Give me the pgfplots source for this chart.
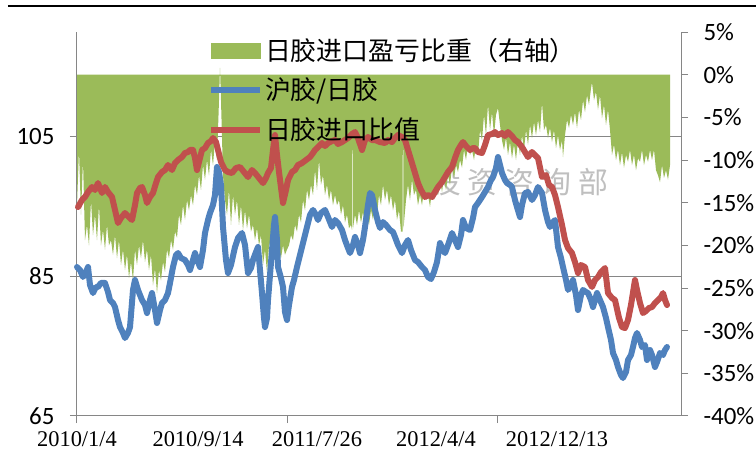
\documentclass[border=0pt]{standalone}
\usepackage{pgfplots}
\pgfplotsset{compat=1.18}
\usepackage{fontspec}
\setmainfont{Liberation Serif}
\newfontfamily\cjk{Noto Sans CJK SC}
\newfontfamily\carlito{Carlito}
\newfontfamily\lserif{Liberation Serif}
\definecolor{agreen}{HTML}{9BBB59}
\definecolor{ablue}{HTML}{4F81BD}
\definecolor{ared}{HTML}{C0504D}
\definecolor{axgray}{HTML}{868686}
\pgfplotsset{
  base/.style={width=604bp, height=384bp, scale only axis, xmin=0, xmax=604,
    /pgf/number format/assume math mode=true, clip=false},
}
\newcommand{\legtxt}[1]{\rule[-5bp]{0pt}{25bp}\smash{#1}}
\begin{document}
\begin{tikzpicture}
% ---------- Axis A: left scale, grid, x axis ----------
\begin{axis}[base, name=A,
  ymin=65, ymax=120,
  axis x line*=bottom, axis y line*=left,
  axis line style={draw=axgray, line width=1bp, -},
  ytick={65,85,105}, yticklabels={65,85,105},
  ymajorgrids, grid style={draw=axgray, line width=1bp},
  tick align=outside, major tick length=7bp,
  tick style={draw=axgray, line width=1bp},
  yticklabel style={font=\carlito\fontsize{25}{25}\selectfont, xshift=-12bp},
  xtick={0,210,420}, xticklabels={,,},
  extra x ticks={0,121,240,359,480},
  extra x tick labels={2010/1/4,2010/9/14,2011/7/26,2012/4/4,2012/12/13},
  extra x tick style={major tick length=0pt,
    xticklabel style={font=\lserif\fontsize{22.5}{22.5}\selectfont, yshift=-12bp}},
]
\node[anchor=east, text=black!25, font=\cjk\fontsize{30}{30}\selectfont]
  at (axis cs:535,98.5) {投\hspace{7bp}资\hspace{7bp}咨\hspace{7bp}询\hspace{7bp}部};
\end{axis}
% ---------- Axis B: right scale, area ----------
\begin{axis}[base,
  ymin=-40, ymax=5,
  axis x line=none, axis y line*=right,
  axis line style={draw=axgray, line width=1bp, -},
  ytick={-40,-35,-30,-25,-20,-15,-10,-5,0,5},
  yticklabels={-40\%,-35\%,-30\%,-25\%,-20\%,-15\%,-10\%,-5\%,0\%,5\%},
  tick align=outside, major tick length=7bp,
  tick style={draw=axgray, line width=1bp},
  yticklabel style={font=\carlito\fontsize{25}{25}\selectfont, xshift=12bp},
]
\addplot[draw=none, fill=agreen] coordinates {
(0,0) (0,-15.3) (2,-8.8) (4,-16.4) (6,-10.0) (8,-19.4) (10,-17.6) (12,-20.0) (14,-14.7) (16,-18.8)
(18,-16.4) (20,-19.4) (22,-15.3) (24,-20.0) (26,-18.2) (28,-20.5) (30,-17.6) (32,-20.0) (34,-19.4)
(36,-21.1) (38,-18.8) (40,-21.5) (42,-19.4) (44,-22.3) (46,-20.5) (48,-22.9) (50,-21.1) (52,-23.8)
(54,-21.95) (56,-24.1) (58,-20.5) (60,-22.3) (62,-20.0) (64,-21.5) (66,-19.4) (68,-21.95) (70,-20.5)
(72,-22.9) (74,-21.1) (76,-24.7) (78,-22.7) (80,-25.6) (82,-22.9) (84,-24.1) (86,-21.95) (88,-23.1)
(90,-20.5) (92,-21.5) (94,-19.4) (96,-20.5) (98,-18.4) (100,-19.1) (102,-16.4) (104,-17.6) (106,-15.3)
(108,-17.0) (110,-14.7) (112,-15.9) (114,-14.1) (116,-15.3) (118,-12.9) (120,-14.1) (122,-11.8)
(124,-13.5) (126,-10.6) (128,-12.3) (130,-10.0) (132,-11.8) (134,-8.8) (136,-10.6) (138,-7.7)
(140,-10.0) (142,-3.0) (143,0.8) (144,-3.0) (146,-11.8) (148,-14.7) (150,-16.4) (152,-13.5)
(154,-17.6) (156,-14.1) (158,-16.4) (160,-14.7) (162,-17.6) (164,-15.3) (166,-18.2) (168,-15.9)
(170,-18.0) (172,-16.4) (174,-18.4) (176,-17.6) (178,-19.4) (180,-18.0) (182,-20.0) (184,-18.8)
(186,-22.3) (188,-20.5) (190,-23.2) (192,-20.0) (194,-19.4) (196,-21.1) (198,-20.0) (200,-21.95)
(202,-20.5) (204,-21.5) (206,-20.0) (208,-21.1) (210,-20.5) (212,-20.0) (214,-18.8) (216,-19.4)
(218,-17.6) (220,-18.4) (222,-16.4) (224,-17.3) (226,-14.7) (228,-15.9) (230,-13.5) (232,-14.7)
(234,-12.9) (236,-14.1) (238,-11.2) (240,-13.5) (242,-10.0) (244,-12.9) (246,-11.8) (248,-14.1)
(250,-12.9) (252,-14.7) (254,-13.5) (256,-15.3) (258,-14.1) (260,-15.3) (262,-14.7) (264,-16.4)
(266,-15.3) (268,-17.3) (270,-16.4) (272,-18.0) (274,-17.6) (275,-18.2) (275.5,0) (276,-18.0)
(278,-16.4) (280,-17.6) (282,-15.9) (284,-17.3) (286,-16.1) (288,-17.6) (290,-16.4) (292,-17.6)
(294,-15.9) (296,-17.0) (298,-15.3) (300,-16.4) (302,-14.1) (304,-15.3) (306,-12.9) (308,-14.7)
(310,-13.5) (312,-15.3) (314,-14.1) (316,-15.9) (318,-14.7) (320,-17.0) (322,-15.9) (324,-18.4)
(325.5,-18.4) (326,0) (326.5,-18.0) (329,-14.7) (331,-12.9) (333,-14.7) (335,-12.3) (337,-14.1)
(339,-13.5) (341,-15.3) (343,-14.1) (345,-15.3) (347,-13.5) (349,-14.7) (351,-14.1) (353,-15.5)
(355,-13.5) (357,-14.7) (359,-12.9) (361,-14.1) (363,-12.3) (365,-13.75) (367,-12.1) (369,-13.5)
(371,-11.8) (373,-12.9) (375,-10.9) (377,-12.1) (379,-10.6) (381,-11.4) (383,-10.0) (385,-10.9)
(387,-8.8) (389,-10.0) (391,-8.2) (393,-9.4) (395,-8.8) (397,-10.0) (399,-8.2) (401,-9.4)
(403,-6.5) (405,-7.7) (407,-4.7) (409,-7.1) (411,-3.5) (413,-6.5) (415,-4.4) (417,-7.1) (419,-4.7)
(421,-3.9) (423,-5.9) (425,-7.7) (427,-8.8) (429,-7.4) (431,-9.4) (433,-7.9) (435,-9.8) (437,-8.2)
(439,-10.0) (441,-7.7) (443,-9.4) (445,-7.1) (447,-8.8) (449,-6.5) (451,-8.2) (453,-5.9) (455,-7.4)
(457,-5.55) (459,-7.1) (461,-5.3) (463,-6.7) (465,-3.3) (467,-6.5) (469,-5.9) (471,-7.4) (473,-6.25)
(475,-7.9) (477,-6.5) (479,-8.6) (481,-7.1) (483,-8.8) (485,-7.7) (486,-9.65) (488,-7.1) (490,-5.3)
(492,-6.25) (494,-4.7) (496,-5.9) (498,-4.4) (500,-6.25) (502,-4.1) (504,-5.3) (506,-3.0) (508,-4.4)
(510,-2.4) (512,-3.55) (514,-1.6) (515,-0.9) (517,-3.0) (519,-2.0) (521,-4.1) (523,-2.4) (525,-5.1)
(527,-3.55) (529,-5.9) (531,-4.1) (533,-6.5) (535,-9.4) (537,-8.2) (539,-10.0) (541,-8.8) (543,-10.6)
(545,-9.1) (547,-10.9) (549,-9.4) (551,-10.2) (553,-8.8) (555,-10.6) (557,-9.4) (559,-11.2)
(561,-9.8) (563,-10.2) (565,-8.8) (567,-10.6) (569,-9.4) (571,-10.2) (573,-8.8) (575,-10.0)
(577,-8.8) (579,-11.2) (581,-11.8) (583,-12.6) (585,-10.6) (587,-12.1) (589,-11.2) (591,-12.3)
(593,-10.6) (593,0)
} \closedcycle;
\end{axis}
% ---------- Axis C: left scale, lines + legend ----------
\begin{axis}[base, hide axis,
  ymin=65, ymax=120,
  legend cell align=left,
  legend style={draw=none, fill=none, inner sep=0pt, outer sep=0pt,
    at={(rel axis cs:0.2169,0.984)}, anchor=north west,
    font=\cjk\fontsize{26}{26}\selectfont, row sep=14bp, column sep=0bp},
]
\addlegendimage{legend image code/.code={\fill[agreen] (0bp,-7.5bp) rectangle (49bp,7.5bp);}}
\addlegendentry{\legtxt{日胶进口盈亏比重（右轴）}}
\addlegendimage{legend image code/.code={\draw[ablue,line width=6bp] (0bp,0bp) -- (49bp,0bp);}}
\addlegendentry{\legtxt{沪胶/日胶}}
\addlegendimage{legend image code/.code={\draw[ared,line width=6bp] (0bp,0bp) -- (49bp,0bp);}}
\addlegendentry{\legtxt{日胶进口比值}}
\addplot[ablue, line width=6bp, line join=round, line cap=round, forget plot] coordinates {
(0,86.34) (3,85.91) (6,84.91) (9,85.62) (11,86.34) (13,83.76) (16,82.61) (19,83.48) (21,83.48)
(24,84.05) (28,84.05) (31,82.76) (33,81.61) (36,81.18) (38,80.61) (41,78.75) (43,77.74) (46,76.89)
(48,76.17) (51,76.89) (53,77.74) (56,83.05) (58,84.48) (61,83.05) (65,81.61) (68,80.90) (70,79.75)
(73,81.61) (75,82.61) (78,80.18) (80,78.32) (83,80.18) (85,81.18) (88,81.61) (91,82.61) (93,84.05)
(96,86.34) (99,88.06) (101,88.34) (104,87.63) (108,87.34) (111,86.63) (113,85.91) (116,87.34)
(118,88.34) (121,87.05) (123,86.34) (126,88.78) (128,91.21) (131,93.07) (133,94.07) (136,95.22)
(138,96.65) (140,100.66) (142,99.95) (144,98.09) (146,92.07) (149,87.34) (151,85.48) (154,86.63)
(158,89.20) (161,90.49) (165,91.21) (168,89.49) (171,85.48) (174,86.20) (176,87.34) (179,88.49)
(181,89.20) (183,85.91) (185,82.61) (187,79.03) (188,77.74) (190,79.03) (191,81.61) (193,85.20)
(195,88.78) (197,92.36) (198,93.50) (200,90.21) (201,86.34) (204,84.76) (206,83.48) (208,79.89)
(210,78.75) (212,80.90) (215,83.48) (217,84.48) (220,86.34) (223,88.06) (225,89.20) (228,90.92)
(231,92.64) (233,93.79) (236,94.51) (239,93.79) (241,93.07) (244,94.07) (248,94.51) (251,93.50)
(255,92.07) (258,93.07) (261,92.64) (265,91.64) (268,90.21) (271,89.06) (273,88.34) (276,89.49)
(278,90.64) (281,89.49) (283,88.34) (286,90.21) (288,92.07) (291,95.22) (293,96.94) (295,96.65)
(298,94.51) (301,92.78) (303,91.93) (306,92.78) (309,92.36) (313,91.64) (316,91.35) (318,90.64)
(321,89.49) (325,88.34) (328,89.49) (331,90.21) (334,88.78) (338,87.34) (341,87.05) (345,86.34)
(348,85.91) (351,84.91) (354,84.62) (357,85.62) (360,87.05) (363,89.77) (366,88.78) (368,88.34)
(371,89.49) (375,91.21) (378,90.21) (381,89.20) (384,90.92) (386,93.07) (389,91.93) (393,91.64)
(396,93.36) (398,94.93) (401,95.51) (405,96.37) (408,97.08) (411,97.80) (414,98.80) (416,99.23)
(419,100.52) (421,102.09) (423,100.95) (425,99.80) (428,98.80) (430,98.37) (433,98.09) (435,97.80)
(438,95.94) (440,94.93) (443,93.50) (445,95.22) (448,96.94) (451,97.08) (455,95.94) (458,96.65)
(461,97.80) (465,96.94) (468,94.51) (471,92.78) (473,92.07) (476,92.78) (478,93.07) (481,89.20)
(484,87.63) (486,86.34) (489,84.48) (491,83.05) (494,83.76) (496,84.48) (499,82.33) (501,80.18)
(504,82.33) (506,83.05) (509,82.76) (511,82.61) (514,81.61) (516,80.61) (518,81.61) (520,82.61)
(523,81.61) (526,80.61) (529,79.03) (531,77.74) (534,75.89) (536,74.02) (539,73.02) (541,72.02)
(544,70.87) (546,70.44) (549,71.30) (551,73.02) (554,73.74) (556,74.88) (558,76.17) (560,76.89)
(563,75.89) (565,74.88) (568,75.17) (570,73.02) (573,74.45) (575,73.74) (578,72.02) (580,72.73)
(583,74.02) (586,73.74) (588,74.45) (590,74.88)
};
\addplot[ared, line width=6bp, line join=round, line cap=round, forget plot] coordinates {
(1,94.93) (5,95.94) (8,96.37) (11,97.08) (15,97.80) (18,97.37) (21,98.37) (25,96.94) (28,97.80)
(31,97.08) (35,96.37) (38,94.51) (41,92.64) (44,93.36) (48,94.07) (51,93.64) (55,93.07) (58,95.22)
(60,96.94) (63,97.65) (65,97.80) (68,96.65) (70,95.51) (73,96.37) (76,96.94) (79,98.37) (81,99.23)
(85,99.95) (88,100.23) (91,100.95) (95,100.23) (98,101.23) (101,101.66) (105,102.09) (108,102.67)
(111,102.81) (113,103.10) (116,103.10) (118,101.95) (120,100.23) (123,101.95) (125,103.10)
(128,103.38) (131,104.10) (134,104.38) (136,104.81) (139,104.24) (141,103.10) (144,101.38)
(148,100.23) (151,99.95) (155,99.80) (159,100.52) (163,100.66) (167,99.95) (171,99.23) (175,100.23)
(178,99.80) (182,99.09) (186,98.37) (189,99.09) (191,99.80) (194,100.52) (196,103.10) (198,105.24)
(200,102.38) (202,99.95) (206,95.51) (209,97.37) (211,98.80) (215,99.95) (218,100.23) (221,100.95)
(225,101.23) (229,101.66) (233,102.09) (236,102.67) (238,103.10) (241,103.52) (245,104.10)
(248,103.67) (251,104.10) (255,104.38) (258,104.53) (261,103.96) (265,104.24) (268,104.53)
(271,104.81) (275,105.39) (278,105.67) (281,104.81) (285,103.10) (288,104.53) (291,104.96)
(295,104.53) (298,104.53) (303,104.24) (308,104.10) (311,104.53) (315,104.24) (318,104.81)
(321,105.24) (325,104.96) (328,104.53) (331,103.10) (335,101.23) (338,99.80) (341,98.37) (344,97.37)
(348,96.37) (351,96.65) (355,96.37) (358,97.08) (361,97.80) (365,98.51) (368,99.23) (371,99.95)
(375,100.66) (378,101.95) (381,103.10) (384,103.82) (386,104.24) (389,103.67) (393,103.10)
(396,103.38) (398,103.38) (401,102.81) (405,102.67) (408,103.82) (411,105.24) (415,105.39)
(418,105.67) (421,105.24) (425,105.53) (428,105.10) (431,105.67) (435,105.10) (438,104.53)
(441,104.24) (445,103.52) (448,102.81) (451,102.09) (455,102.81) (458,102.38) (461,101.95)
(465,99.23) (469,99.52) (472,98.09) (475,97.80) (478,96.65) (481,94.93) (485,92.36) (488,90.21)
(491,89.06) (495,88.34) (498,87.05) (501,85.48) (504,86.63) (508,86.34) (511,84.48) (515,83.48)
(518,84.48) (521,84.91) (524,85.62) (528,86.20) (531,82.61) (535,81.90) (538,81.61) (542,79.04)
(545,77.74) (548,77.60) (551,78.75) (554,80.90) (558,84.48) (560,83.05) (563,81.18) (566,79.75)
(569,80.04) (572,80.47) (575,80.61) (578,81.18) (581,81.61) (584,82.04) (586,82.61) (588,81.61)
(590,80.90)
};
\end{axis}
\draw[black, line width=2bp] ([shift={(-69bp,410bp)}]A.south west) -- ++(748bp,0bp);
\pgfresetboundingbox
\path[use as bounding box] ([shift={(-77bp,-40bp)}]A.south west) rectangle ++(756bp,456bp);
\end{tikzpicture}
\end{document}
